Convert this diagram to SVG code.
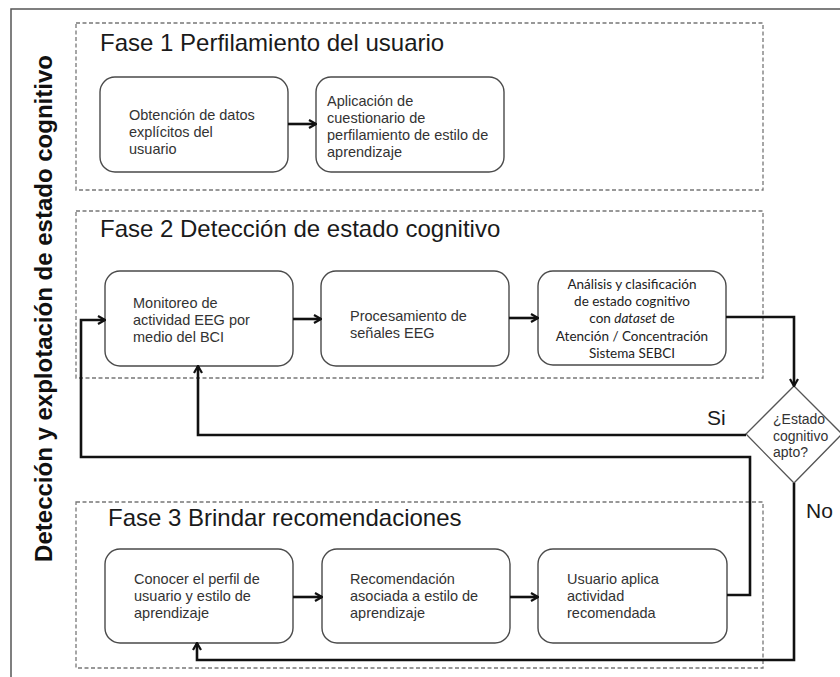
<svg xmlns="http://www.w3.org/2000/svg" width="840" height="677" viewBox="0 0 840 677">
<defs>
<style>
.frame{fill:none;stroke:#555;stroke-width:1.5}
.phase{fill:none;stroke:#777;stroke-width:1.3;stroke-dasharray:4 2.5}
.box{fill:#fff;stroke:#4a4a4a;stroke-width:1.4}
.ptitle{font-family:"Liberation Sans",Arial,sans-serif;font-size:24px;fill:#1a1a1a}
.t{font-family:"Liberation Sans",Arial,sans-serif;font-size:14.5px;fill:#333}
.tc{font-family:Lato,"Open Sans",sans-serif;font-size:13.5px;fill:#222;text-anchor:middle}
.lbl{font-family:"Liberation Sans",Arial,sans-serif;font-size:21px;fill:#1a1a1a}
.dt{font-family:"Liberation Sans",Arial,sans-serif;font-size:14px;fill:#333}
.side{font-family:"Liberation Sans",Arial,sans-serif;font-size:24px;font-weight:bold;fill:#111;text-anchor:middle}
.c{fill:none;stroke:#111;stroke-width:2.6}
</style>
<marker id="arr" viewBox="0 0 10 10" refX="9" refY="5" markerWidth="10" markerHeight="10" markerUnits="userSpaceOnUse" orient="auto">
<path d="M2,1 L9,5 L2,9" fill="none" stroke="#111" stroke-width="2.2"/>
</marker>
</defs>
<rect class="frame" x="11" y="9" width="840" height="680"/>
<text class="side" transform="translate(52,308.5) rotate(-90)">Detección y explotación de estado cognitivo</text>

<g id="fase1">
<rect class="phase" x="76" y="23" width="687" height="167"/>
<text class="ptitle" x="100" y="51">Fase 1 Perfilamiento del usuario</text>
</g>
<g id="fase2">
<rect class="phase" x="76" y="211" width="687" height="167"/>
<text class="ptitle" x="100" y="237">Fase 2 Detección de estado cognitivo</text>
</g>
<g id="fase3">
<rect class="phase" x="76" y="502" width="687" height="166"/>
<text class="ptitle" x="108" y="526">Fase 3 Brindar recomendaciones</text>
</g>

<g id="n_obtencion">
<rect class="box" x="100" y="77" width="188" height="95" rx="15"/>
<text class="t" x="129" y="120">Obtención de datos</text>
<text class="t" x="129" y="137">explícitos del</text>
<text class="t" x="129" y="154">usuario</text>
</g>
<g id="n_aplicacion">
<rect class="box" x="316" y="77" width="188" height="95" rx="15"/>
<text class="t" x="327" y="106">Aplicación de</text>
<text class="t" x="327" y="123">cuestionario de</text>
<text class="t" x="327" y="140">perfilamiento de estilo de</text>
<text class="t" x="327" y="157">aprendizaje</text>
</g>

<g id="n_monitoreo">
<rect class="box" x="105" y="271" width="188" height="95" rx="15"/>
<text class="t" x="133" y="308">Monitoreo de</text>
<text class="t" x="133" y="325">actividad EEG por</text>
<text class="t" x="133" y="342">medio del BCI</text>
</g>
<g id="n_procesamiento">
<rect class="box" x="321" y="271" width="188" height="95" rx="15"/>
<text class="t" x="350" y="321">Procesamiento de</text>
<text class="t" x="350" y="338">señales EEG</text>
</g>
<g id="n_analisis">
<rect class="box" x="538" y="271" width="188" height="94" rx="15"/>
<text class="tc" x="632" y="289">Análisis y clasificación</text>
<text class="tc" x="632" y="306">de estado cognitivo</text>
<text class="tc" x="632" y="323">con <tspan font-style="italic">dataset</tspan>  de</text>
<text class="tc" x="632" y="341">Atención / Concentración</text>
<text class="tc" x="632" y="358">Sistema SEBCI</text>
</g>

<g id="n_decision">
<polygon points="794,386 842,434 794,483 746,434" fill="#fff" stroke="#555" stroke-width="1.3"/>
<text class="dt" x="773" y="424">¿Estado</text>
<text class="dt" x="773" y="441">cognitivo</text>
<text class="dt" x="773" y="457">apto?</text>
</g>

<g id="n_conocer">
<rect class="box" x="105" y="549" width="188" height="94" rx="15"/>
<text class="t" x="134" y="584">Conocer el perfil de</text>
<text class="t" x="134" y="601">usuario y estilo de</text>
<text class="t" x="134" y="618">aprendizaje</text>
</g>
<g id="n_recomendacion">
<rect class="box" x="322" y="549" width="188" height="94" rx="15"/>
<text class="t" x="350" y="584">Recomendación</text>
<text class="t" x="350" y="601">asociada a estilo de</text>
<text class="t" x="350" y="618">aprendizaje</text>
</g>
<g id="n_usuario">
<rect class="box" x="538" y="549" width="189" height="94" rx="15"/>
<text class="t" x="567" y="584">Usuario aplica</text>
<text class="t" x="567" y="601">actividad</text>
<text class="t" x="567" y="618">recomendada</text>
</g>

<g id="connectors">
<path class="c" d="M288,124 H316" marker-end="url(#arr)"/>
<path class="c" d="M293,319 H321" marker-end="url(#arr)"/>
<path class="c" d="M509,318 H538" marker-end="url(#arr)"/>
<path class="c" d="M726,317 H794 V386" marker-end="url(#arr)"/>
<path class="c" d="M746,435 H198 V366" marker-end="url(#arr)"/>
<path class="c" d="M727,595 H750 V457 H81 V320 H105" marker-end="url(#arr)"/>
<path class="c" d="M794,483 V660 H197 V643" marker-end="url(#arr)"/>
<path class="c" d="M293,597 H322" marker-end="url(#arr)"/>
<path class="c" d="M510,597 H538" marker-end="url(#arr)"/>
<text class="lbl" x="707" y="425">Si</text>
<text class="lbl" x="806" y="518">No</text>
</g>
</svg>
